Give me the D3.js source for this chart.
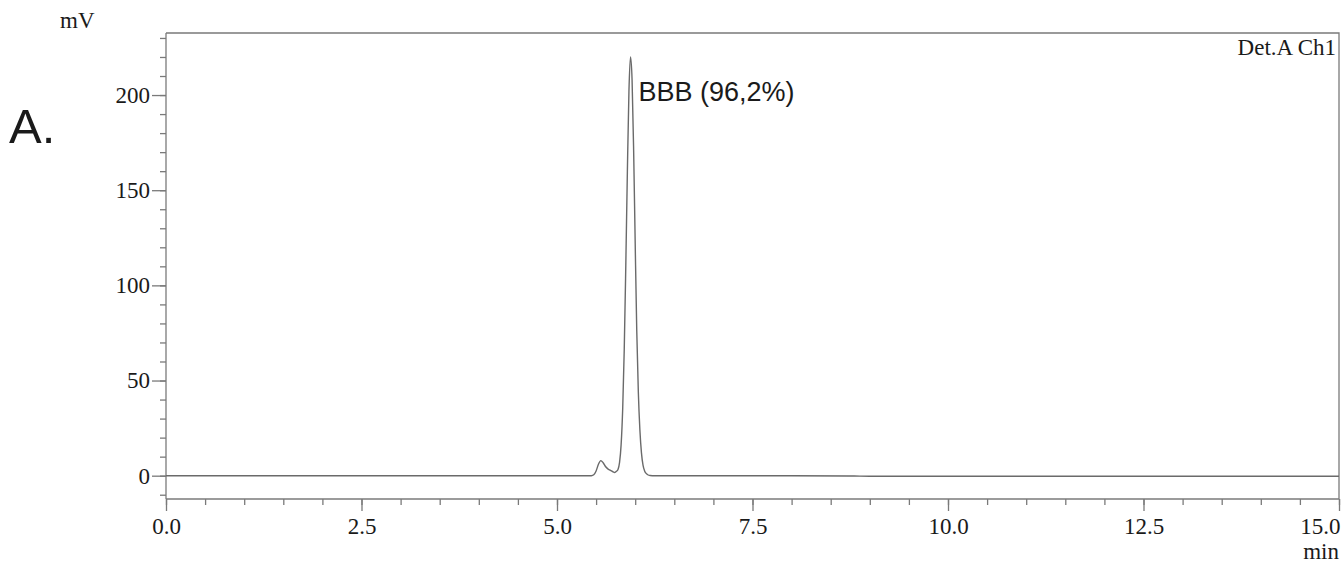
<!DOCTYPE html>
<html>
<head>
<meta charset="utf-8">
<title>Chromatogram</title>
<script src="https://d3js.org/d3.v7.min.js"></script>
<style>
  body { margin: 0; background: #fff; }
  svg text { fill: #1a1a1a; }
</style>
</head>
<body>
<script>
  // retention time (min) and detector signal (mV)
  var times = [0, 1, 2, 3, 4, 5, 5.2, 5.4, 5.44, 5.47, 5.50, 5.53, 5.56, 5.59, 5.62, 5.65, 5.68, 5.71, 5.74,
    5.76, 5.78, 5.80, 5.82, 5.84, 5.86, 5.88, 5.90, 5.92, 5.94, 5.96, 5.98, 6.00, 6.02, 6.04, 6.06, 6.08,
    6.10, 6.12, 6.14, 6.16, 6.19, 6.25, 7, 8, 8.8, 9, 10, 11, 12, 13, 14, 15];
  var signal = [0, 0, 0, 0, 0, 0, 0, 0, 0, 0.5, 2.5, 6, 7.9, 6.8, 4.8, 3.6, 2.9, 2.2, 1.7,
    2.3, 3.3, 7, 16.3, 35, 66.5, 111, 160, 202, 220, 208, 171, 122, 76, 44, 24, 12,
    5.5, 2.5, 1.2, 0.5, 0.1, 0, 0, 0, -0.2, -0.3, -0.3, -0.3, -0.3, -0.3, -0.3, -0.3];

  var xMajor = [0, 2.5, 5, 7.5, 10, 12.5, 15];
  var yMajor = [0, 50, 100, 150, 200];
  var peakLabel = "BBB (96,2%)";
  var peakTime = 5.94, peakValue = 220;

  var W = 1342, H = 564;
  var plotL = 166, plotR = 1339, plotT = 33, plotB = 499;

  var svg = d3.select("body").append("svg")
    .attr("width", W)
    .attr("height", H);

  var x = d3.scaleLinear().domain([0, 15]).range([plotL, plotR]);
  var y = d3.scaleLinear().domain([-12.25, 232.6]).range([plotB, plotT]);

  var axisColor = "#7a7a7a";
  var serif = "'Liberation Serif', 'Times New Roman', serif";

  // frame (top and right)
  svg.append("path")
    .attr("d", "M" + plotL + "," + plotT + "H" + plotR + "V" + plotB)
    .attr("fill", "none")
    .attr("stroke", axisColor)
    .attr("stroke-width", 1.3);

  // y axis: minor then major
  var yMinor = svg.append("g")
    .attr("transform", "translate(" + plotL + ",0)")
    .call(d3.axisLeft(y).tickValues(d3.range(-10, 231, 10)).tickSize(6).tickFormat(""));
  var yAx = svg.append("g")
    .attr("transform", "translate(" + plotL + ",0)")
    .call(d3.axisLeft(y).tickValues(yMajor).tickSize(14).tickPadding(2));

  // x axis: minor then major
  var xMinor = svg.append("g")
    .attr("transform", "translate(0," + plotB + ")")
    .call(d3.axisBottom(x).tickValues(d3.range(0, 15.01, 0.5)).tickSize(6).tickFormat(""));
  var xAx = svg.append("g")
    .attr("transform", "translate(0," + plotB + ")")
    .call(d3.axisBottom(x).tickValues(xMajor).tickSize(12).tickPadding(7).tickFormat(d3.format(".1f")));

  [yMinor, yAx, xMinor, xAx].forEach(function(g) {
    g.selectAll("path.domain").attr("stroke", axisColor).attr("stroke-width", 1.3);
    g.selectAll(".tick line").attr("stroke", axisColor).attr("stroke-width", 1.3);
    g.selectAll(".tick text")
      .attr("font-family", serif)
      .attr("font-size", 23)
      .attr("fill", "#1a1a1a");
  });
  yMinor.select("path.domain").remove();
  xMinor.select("path.domain").remove();
  yAx.select("path.domain").attr("d", "M0," + plotT + "V" + plotB);
  xAx.select("path.domain").attr("d", "M" + plotL + ",0H" + plotR);

  // last x label sits against the right edge
  xAx.selectAll(".tick text").filter(function(d) { return d === 15; })
    .attr("text-anchor", "end")
    .attr("x", 1);

  // trace
  var line = d3.line()
    .x(function(d, i) { return x(times[i]); })
    .y(function(d) { return y(d); })
    .curve(d3.curveMonotoneX);

  svg.append("path")
    .datum(signal)
    .attr("d", line)
    .attr("fill", "none")
    .attr("stroke", "#6a6a6a")
    .attr("stroke-width", 1.4);

  // texts
  svg.append("text")
    .attr("x", x(peakTime) + 8)
    .attr("y", y(peakValue) + 44)
    .attr("font-family", "'Liberation Sans', Arial, sans-serif")
    .attr("font-size", 27)
    .text(peakLabel);

  svg.append("text")
    .attr("x", 60)
    .attr("y", 28)
    .attr("font-family", serif)
    .attr("font-size", 23)
    .text("mV");

  svg.append("text")
    .attr("x", 1336)
    .attr("y", 55)
    .attr("text-anchor", "end")
    .attr("font-family", serif)
    .attr("font-size", 23)
    .text("Det.A Ch1");

  svg.append("text")
    .attr("x", 1339)
    .attr("y", 559)
    .attr("text-anchor", "end")
    .attr("font-family", serif)
    .attr("font-size", 23)
    .text("min");

  svg.append("text")
    .attr("x", 9)
    .attr("y", 143)
    .attr("font-family", "'Liberation Sans', Arial, sans-serif")
    .attr("font-size", 49)
    .text("A.");
</script>
</body>
</html>
